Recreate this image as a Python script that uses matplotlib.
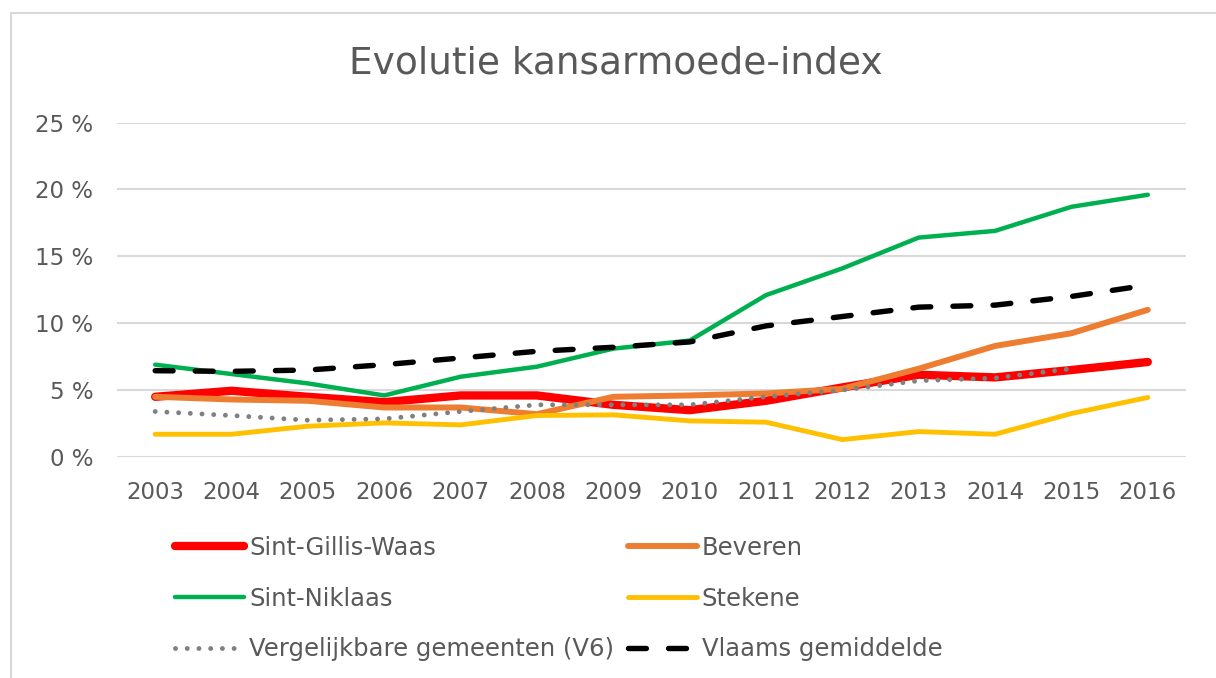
import numpy as np
import matplotlib
matplotlib.use("Agg")
import matplotlib.pyplot as plt
from matplotlib.patches import Rectangle

years = ["2003", "2004", "2005", "2006", "2007", "2008", "2009",
         "2010", "2011", "2012", "2013", "2014", "2015", "2016"]
sint_gillis = [4.5, 4.95, 4.5, 4.1, 4.6, 4.6, 3.9, 3.5, 4.2, 5.2, 6.15, 5.95, 6.5, 7.1]
beveren = [4.5, 4.3, 4.2, 3.7, 3.7, 3.2, 4.5, 4.6, 4.75, 5.1, 6.6, 8.3, 9.25, 11.0]
sint_niklaas = [6.9, 6.2, 5.5, 4.6, 6.0, 6.75, 8.1, 8.7, 12.1, 14.1, 16.4, 16.9, 18.7, 19.6]
stekene = [1.7, 1.7, 2.3, 2.55, 2.4, 3.1, 3.15, 2.7, 2.6, 1.3, 1.9, 1.7, 3.25, 4.45]
v6 = [3.4, 3.1, 2.75, 2.85, 3.4, 3.9, 3.9, 3.9, 4.5, 5.0, 5.7, 5.9, 6.6, np.nan]
vlaams = [6.45, 6.4, 6.5, 6.9, 7.4, 7.9, 8.2, 8.6, 9.8, 10.5, 11.2, 11.35, 12.0, 12.85]
y_ticks = [0, 5, 10, 15, 20, 25]
y_labels = ["0 %", "5 %", "10 %", "15 %", "20 %", "25 %"]
title = "Evolutie kansarmoede-index"

TXT = "#595959"
plt.rcParams["font.family"] = ["DejaVu Sans"]

fig = plt.figure(figsize=(12.16, 6.78), dpi=100)
ax = fig.add_axes([117/1216, 1-457/678, (1186-117)/1216, (457-122.5)/678])

x = np.arange(len(years))
h_sgw, = ax.plot(x, sint_gillis, color="#FF0000", lw=6, solid_capstyle="round",
                 solid_joinstyle="round", label="Sint-Gillis-Waas", zorder=3)
h_bev, = ax.plot(x, beveren, color="#ED7D31", lw=4.3, solid_capstyle="round",
                 solid_joinstyle="round", label="Beveren", zorder=4)
h_sn, = ax.plot(x, sint_niklaas, color="#00B050", lw=3.2, solid_capstyle="round",
                solid_joinstyle="round", label="Sint-Niklaas", zorder=5)
h_st, = ax.plot(x, stekene, color="#FFC000", lw=3.5, solid_capstyle="round",
                solid_joinstyle="round", label="Stekene", zorder=6)
h_v6, = ax.plot(x, v6, color="#808080", lw=3.5, dashes=(0.01, 2.4),
                dash_capstyle="round", label="Vergelijkbare gemeenten (V6)", zorder=7)
h_vl, = ax.plot(x, vlaams, color="#000000", lw=3.9, dashes=(3.3, 4.1),
                dash_capstyle="round", label="Vlaams gemiddelde", zorder=8)

ax.set_xlim(-0.5, len(years) - 0.5)
ax.set_ylim(0, 25)
ax.set_xticks(x)
ax.set_xticklabels(years)
ax.set_yticks(y_ticks)
ax.set_yticklabels(y_labels)
ax.tick_params(axis="both", length=0, labelsize=16.5, labelcolor=TXT)
ax.tick_params(axis="y", pad=17)
ax.tick_params(axis="x", pad=17)
ax.grid(axis="y", color="#D9D9D9", lw=1.5)
ax.set_axisbelow(True)
for s in ax.spines.values():
    s.set_visible(False)

fig.text(616/1216, 1-63/678, title, ha="center", va="center", fontsize=27, color=TXT)

handles = [h_sgw, h_sn, h_v6, h_bev, h_st, h_vl]
leg = fig.legend(handles=handles, labels=[h.get_label() for h in handles],
                 ncol=2, loc="upper left", bbox_to_anchor=(175/1216, 1-536/678),
                 frameon=False, fontsize=17.5, handlelength=2.85, handletextpad=0.2,
                 columnspacing=0.55, labelspacing=1.1, borderpad=0, borderaxespad=0)
for t in leg.get_texts():
    t.set_color(TXT)

fig.add_artist(Rectangle((11/1216, -0.1), 1.5, 1 - 13/678 + 0.1,
                         transform=fig.transFigure, fill=False,
                         edgecolor="#D9D9D9", lw=1.5))

fig.savefig("out.png", dpi=100)
